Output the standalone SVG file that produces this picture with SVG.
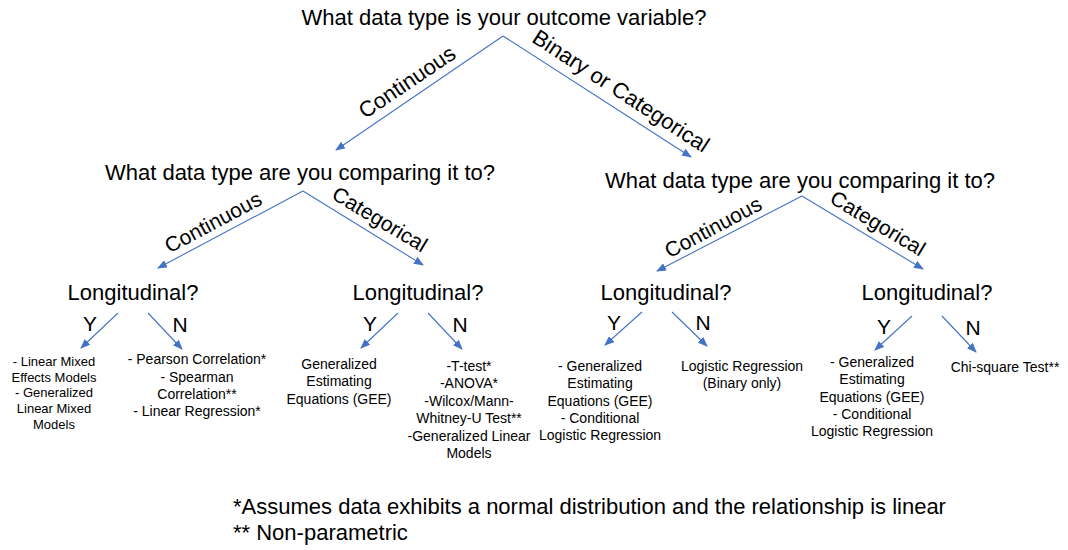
<svg xmlns="http://www.w3.org/2000/svg" width="1068" height="550" viewBox="0 0 1068 550">
<style>
text{font-family:"Liberation Sans",Arial,sans-serif;fill:#000}
.q{font-size:22px;text-anchor:middle}
.lab{font-size:21px;text-anchor:middle;dominant-baseline:central}
.lab2{font-size:22px;text-anchor:middle;dominant-baseline:central}
.yn{font-size:21px;text-anchor:middle}
.t{font-size:14px;text-anchor:middle}
.t13{font-size:13px;text-anchor:middle}
.foot{font-size:22px}
.c{stroke:#4472C4;stroke-width:1.1;fill:none;marker-end:url(#ah)}
</style>
<defs>
<marker id="ah" markerUnits="userSpaceOnUse" markerWidth="10" markerHeight="8" refX="9" refY="4" orient="auto">
<path d="M0,0 L10,4 L0,8 Z" fill="#4472C4"/>
</marker>
</defs>
<rect width="1068" height="550" fill="#fff"/>
<g id="connectors">
<line class="c" x1="503" y1="36" x2="336" y2="150"/>
<line class="c" x1="503" y1="36" x2="691" y2="157"/>
<line class="c" x1="303" y1="191" x2="158" y2="268"/>
<line class="c" x1="303" y1="191" x2="423" y2="265"/>
<line class="c" x1="802" y1="196" x2="657" y2="271"/>
<line class="c" x1="802" y1="196" x2="923" y2="269"/>
<line class="c" x1="118" y1="313" x2="81" y2="348"/>
<line class="c" x1="148" y1="313" x2="182" y2="349"/>
<line class="c" x1="398" y1="313" x2="361" y2="348"/>
<line class="c" x1="428" y1="313" x2="462" y2="349"/>
<line class="c" x1="642" y1="312" x2="605" y2="345"/>
<line class="c" x1="672" y1="312" x2="707" y2="346"/>
<line class="c" x1="912" y1="316" x2="875" y2="350"/>
<line class="c" x1="942" y1="316" x2="976" y2="352"/>
<text class="lab2" transform="translate(407,82) rotate(-34)">Continuous</text>
<text class="lab2" transform="translate(621,91) rotate(33)">Binary or Categorical</text>
<text class="lab" transform="translate(213,222) rotate(-28)">Continuous</text>
<text class="lab" transform="translate(380,219) rotate(31)">Categorical</text>
<text class="lab" transform="translate(713,227) rotate(-28)">Continuous</text>
<text class="lab" transform="translate(878,223) rotate(31)">Categorical</text>
<text class="yn" x="90" y="331">Y</text>
<text class="yn" x="180" y="332">N</text>
<text class="yn" x="370" y="331">Y</text>
<text class="yn" x="460" y="332">N</text>
<text class="yn" x="614" y="330">Y</text>
<text class="yn" x="703" y="330">N</text>
<text class="yn" x="884" y="334">Y</text>
<text class="yn" x="973" y="335">N</text>
</g>
<g id="root"><text class="q" x="504" y="25">What data type is your outcome variable?</text></g>
<g id="cont-compare"><text class="q" x="300" y="180">What data type are you comparing it to?</text></g>
<g id="bin-compare"><text class="q" x="800" y="188">What data type are you comparing it to?</text></g>
<g id="long1"><text class="q" x="133" y="300">Longitudinal?</text></g>
<g id="long2"><text class="q" x="418" y="300">Longitudinal?</text></g>
<g id="long3"><text class="q" x="666" y="300">Longitudinal?</text></g>
<g id="long4"><text class="q" x="927" y="300">Longitudinal?</text></g>
<g id="res1">
<text class="t13" x="54" y="366">- Linear Mixed</text>
<text class="t13" x="54" y="382">Effects Models</text>
<text class="t13" x="54" y="397">- Generalized</text>
<text class="t13" x="54" y="413">Linear Mixed</text>
<text class="t13" x="54" y="429">Models</text>
</g>
<g id="res2">
<text class="t" x="197" y="364">- Pearson Correlation*</text>
<text class="t" x="197" y="382">- Spearman</text>
<text class="t" x="197" y="399">Correlation**</text>
<text class="t" x="197" y="416">- Linear Regression*</text>
</g>
<g id="res3">
<text class="t" x="339" y="369">Generalized</text>
<text class="t" x="339" y="386">Estimating</text>
<text class="t" x="339" y="404">Equations (GEE)</text>
</g>
<g id="res4">
<text class="t" x="469" y="371">-T-test*</text>
<text class="t" x="469" y="388">-ANOVA*</text>
<text class="t" x="469" y="406">-Wilcox/Mann-</text>
<text class="t" x="469" y="423">Whitney-U Test**</text>
<text class="t" x="469" y="441">-Generalized Linear</text>
<text class="t" x="469" y="458">Models</text>
</g>
<g id="res5">
<text class="t" x="600" y="371">- Generalized</text>
<text class="t" x="600" y="388">Estimating</text>
<text class="t" x="600" y="406">Equations (GEE)</text>
<text class="t" x="600" y="423">- Conditional</text>
<text class="t" x="600" y="440">Logistic Regression</text>
</g>
<g id="res6">
<text class="t" x="742" y="371">Logistic Regression</text>
<text class="t" x="742" y="388">(Binary only)</text>
</g>
<g id="res7">
<text class="t" x="872" y="367">- Generalized</text>
<text class="t" x="872" y="384">Estimating</text>
<text class="t" x="872" y="402">Equations (GEE)</text>
<text class="t" x="872" y="419">- Conditional</text>
<text class="t" x="872" y="436">Logistic Regression</text>
</g>
<g id="res8">
<text class="t" x="1005" y="372">Chi-square Test**</text>
</g>
<g id="footnote">
<text class="foot" x="233" y="514">*Assumes data exhibits a normal distribution and the relationship is linear</text>
<text class="foot" x="233" y="540">** Non-parametric</text>
</g>
</svg>
